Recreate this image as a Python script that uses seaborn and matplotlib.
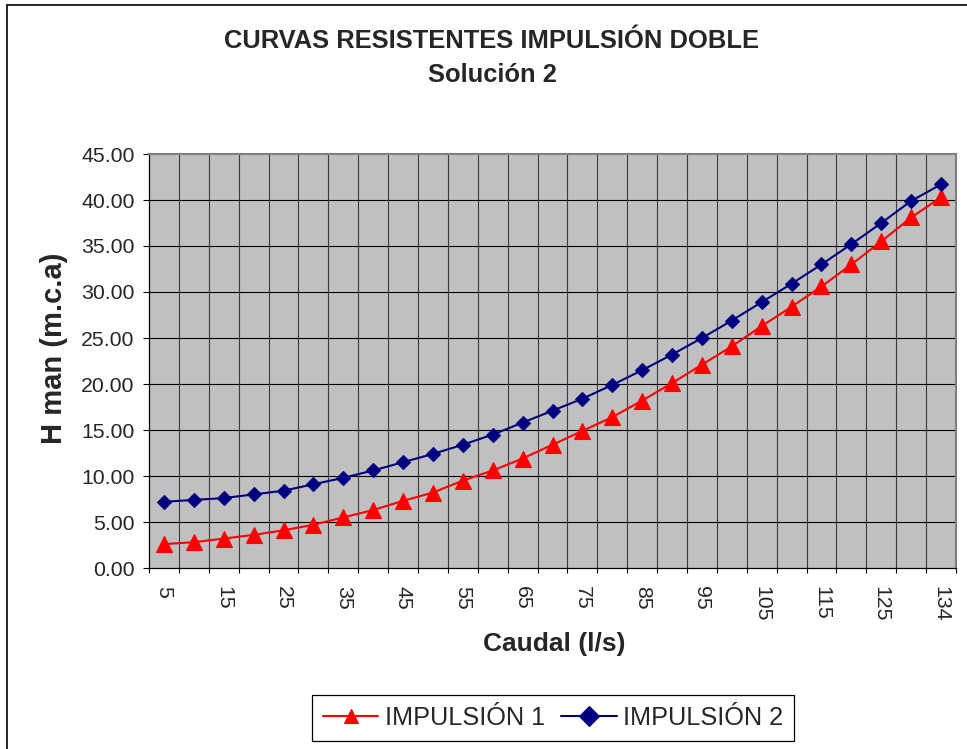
import numpy as np
import pandas as pd
import matplotlib
matplotlib.use("Agg")
import matplotlib.pyplot as plt
from matplotlib.lines import Line2D
from matplotlib.ticker import FixedLocator, FormatStrFormatter
import seaborn as sns

# Caudal (l/s) and manometric head (m.c.a) for each pumping line
caudal = [5, 10, 15, 20, 25, 30, 35, 40, 45, 50, 55, 60, 65, 70, 75,
          80, 85, 90, 95, 100, 105, 110, 115, 120, 125, 130, 134]
impulsion_1 = [2.6, 2.8, 3.2, 3.6, 4.1, 4.7, 5.5, 6.3, 7.3, 8.2, 9.5, 10.6,
               11.9, 13.4, 14.9, 16.4, 18.2, 20.1, 22.1, 24.1, 26.3, 28.4,
               30.6, 33.0, 35.5, 38.1, 40.3]
impulsion_2 = [7.2, 7.4, 7.6, 8.0, 8.4, 9.1, 9.8, 10.6, 11.5, 12.4, 13.4,
               14.5, 15.8, 17.1, 18.4, 19.9, 21.5, 23.2, 25.0, 26.9, 28.9,
               30.9, 33.0, 35.2, 37.5, 39.9, 41.7]
series_names = ["IMPULSIÓN 1", "IMPULSIÓN 2"]
y_ticks = [0, 5, 10, 15, 20, 25, 30, 35, 40, 45]

labels = [str(c) for c in caudal]
df = pd.DataFrame({
    "Caudal": labels * 2,
    "H": impulsion_1 + impulsion_2,
    "Serie": [series_names[0]] * len(caudal) + [series_names[1]] * len(caudal),
})

sns.set_theme(style="white")
plt.rcParams["font.family"] = ["Liberation Sans", "DejaVu Sans"]

W, H = 967, 749
fig = plt.figure(figsize=(W / 100, H / 100), dpi=100)
fig.patch.set_facecolor("white")

# plot area in pixel coordinates
left, right, top, bottom = 149, 956, 154, 568
ax = fig.add_axes([left / W, 1 - bottom / H, (right - left) / W, (bottom - top) / H])
ax.set_facecolor("#C0C0C0")

sns.pointplot(
    data=df, x="Caudal", y="H", hue="Serie", order=labels,
    hue_order=series_names,
    palette={series_names[0]: "#FF0000", series_names[1]: "#000080"},
    markers=["^", "D"], linestyles=["-", "-"], errorbar=None,
    markersize=10, linewidth=1.5, markeredgewidth=0.8, ax=ax,
)
# tune marker sizes per series (triangle vs diamond)
for ln in ax.lines:
    if ln.get_marker() == "D":
        ln.set_markersize(7.3)
    elif ln.get_marker() == "^":
        ln.set_markersize(11)

n = len(caudal)
ax.set_xlim(-0.5, n - 0.5)
ax.set_ylim(0, 45)

# y axis
ax.set_yticks(y_ticks)
ax.yaxis.set_major_formatter(FormatStrFormatter("%.2f"))
ax.tick_params(axis="y", which="major", direction="out", length=4.3, width=0.8,
               color="black", labelsize=15.3, pad=6, left=True)

# x axis: labels on every other category, tick marks on category boundaries
major_pos = list(range(0, n, 2))
ax.set_xticks(major_pos)
ax.set_xticklabels([labels[i] for i in major_pos], rotation=-90)
ax.xaxis.set_minor_locator(FixedLocator(np.arange(-0.5, n, 1.0)))
ax.tick_params(axis="x", which="major", length=0, labelsize=15.3, pad=13)
ax.tick_params(axis="x", which="minor", direction="out", length=3.6,
               width=0.8, color="black", bottom=True)

# grid
ax.grid(False)
for yv in y_ticks[1:-1]:
    ax.axhline(yv, color="black", lw=0.8, zorder=0.5)
for xv in np.arange(0.5, n - 1, 1.0):
    ax.axvline(xv, color="#3a3a3a", lw=0.8, zorder=0.5)
for ln in ax.lines:
    if ln.get_marker() in ("^", "D"):
        ln.set_zorder(3)

for side in ("left", "bottom"):
    ax.spines[side].set_color("black")
    ax.spines[side].set_linewidth(0.9)
for side in ("top", "right"):
    ax.spines[side].set_color("#808080")
    ax.spines[side].set_linewidth(1.5)

ax.set_xlabel("Caudal (l/s)", fontsize=19, fontweight="bold")
ax.set_ylabel("H man (m.c.a)", fontsize=21, fontweight="bold")
ax.xaxis.set_label_coords(0.5025, -0.155)
ax.yaxis.set_label_coords(-0.100, 0.53)

fig.text(492 / W, 1 - 41 / H, "CURVAS RESISTENTES IMPULSIÓN DOBLE",
         ha="center", va="center", fontsize=18.4, fontweight="bold")
fig.text(492 / W, 1 - 75 / H, "Solución 2",
         ha="center", va="center", fontsize=18.4, fontweight="bold")

sns.move_legend(
    ax, "center", bbox_to_anchor=(553 / W, 1 - 718 / H),
    bbox_transform=fig.transFigure, ncol=2, title=None, frameon=True,
    fontsize=18.2, handlelength=2.2, handletextpad=0.25, columnspacing=0.65,
    borderpad=0.42, fancybox=False, edgecolor="black", framealpha=1,
)
leg = ax.get_legend()
leg.get_frame().set_linewidth(0.9)
for h in leg.legend_handles:
    h.set_linewidth(1.5)

# outer chart frame
fig.add_artist(Line2D([7 / W, 7 / W], [0, 1 - 4.5 / H], color="black", lw=1.2,
                      transform=fig.transFigure))
fig.add_artist(Line2D([7 / W, 1], [1 - 4.5 / H, 1 - 4.5 / H], color="black",
                      lw=1.2, transform=fig.transFigure))

fig.savefig("out.png", dpi=100)
